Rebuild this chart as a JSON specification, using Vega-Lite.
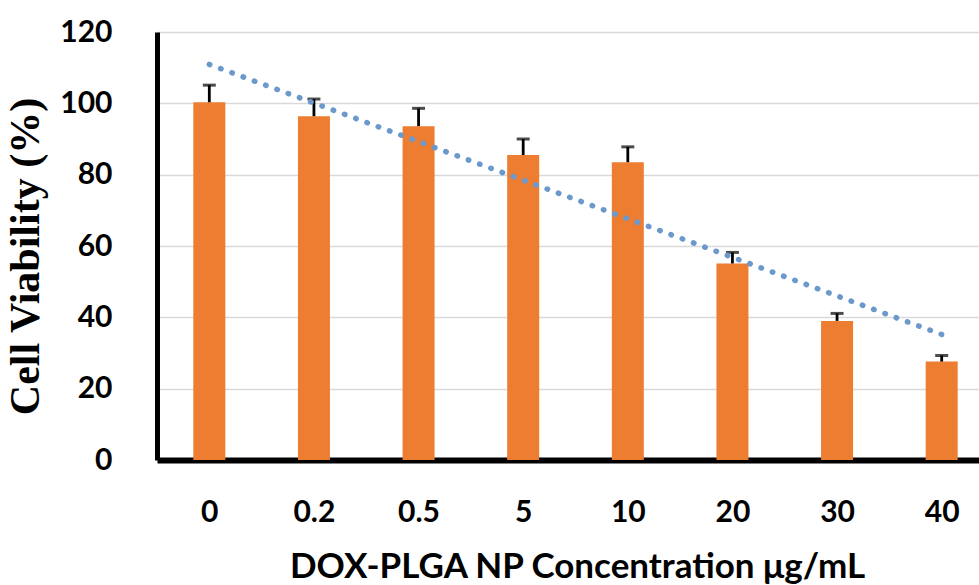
{
  "$schema": "https://vega.github.io/schema/vega-lite/v6.json",
  "autosize": {"type": "none"},
  "width": 822,
  "height": 428,
  "padding": {"left": 157, "top": 32, "right": 0, "bottom": 125},
  "background": "white",
  "config": {"view": {"stroke": null}},
  "datasets": {
    "bars": [
      {"conc": "0", "viability": 100.3, "upper": 105.1},
      {"conc": "0.2", "viability": 96.4, "upper": 101.2},
      {"conc": "0.5", "viability": 93.6, "upper": 98.6},
      {"conc": "5", "viability": 85.5, "upper": 90.0},
      {"conc": "10", "viability": 83.5, "upper": 87.8},
      {"conc": "20", "viability": 55.1, "upper": 58.2},
      {"conc": "30", "viability": 39.0, "upper": 41.1},
      {"conc": "40", "viability": 27.6, "upper": 29.3}
    ],
    "trend": [
      {"conc": "0", "trend": 110.9},
      {"conc": "40", "trend": 35.2}
    ]
  },
  "encoding": {
    "x": {
      "field": "conc",
      "type": "ordinal",
      "sort": ["0", "0.2", "0.5", "5", "10", "20", "30", "40"],
      "scale": {"type": "point", "padding": 0.5, "range": [0, 837]},
      "axis": {
        "title": "DOX-PLGA NP Concentration μg/mL",
        "titleFont": "Lato",
        "titleFontSize": 35,
        "titleFontWeight": "bold",
        "titleColor": "black",
        "titlePadding": 22,
        "titleX": 420,
        "labelFont": "Lato",
        "labelFontSize": 30,
        "labelFontWeight": "bold",
        "labelColor": "black",
        "labelAngle": 0,
        "labelPadding": 37,
        "ticks": false,
        "domainColor": "black",
        "domainWidth": 6,
        "grid": false
      }
    }
  },
  "layer": [
    {
      "data": {"name": "bars"},
      "mark": {"type": "bar", "size": 32, "color": "#ED7D31"},
      "encoding": {
        "y": {
          "field": "viability",
          "type": "quantitative",
          "scale": {"domain": [0, 120]},
          "axis": {
            "title": "Cell Viability (%)",
            "titleFont": "Liberation Serif",
            "titleFontSize": 42,
            "titleFontWeight": "bold",
            "titleColor": "black",
            "titlePadding": 12,
            "titleY": 224,
            "labelFont": "Lato",
            "labelFontSize": 30,
            "labelFontWeight": "bold",
            "labelColor": "black",
            "labelPadding": 45,
            "values": [0, 20, 40, 60, 80, 100, 120],
            "ticks": false,
            "domainColor": "black",
            "domainWidth": 5,
            "grid": true,
            "gridColor": "#D9D9D9",
            "gridWidth": 1.5
          }
        }
      }
    },
    {
      "data": {"name": "bars"},
      "mark": {"type": "rule", "color": "black", "strokeWidth": 2.8},
      "encoding": {
        "y": {"field": "viability", "type": "quantitative"},
        "y2": {"field": "upper"}
      }
    },
    {
      "data": {"name": "bars"},
      "mark": {"type": "tick", "color": "black", "size": 13, "thickness": 3, "orient": "horizontal"},
      "encoding": {
        "y": {"field": "upper", "type": "quantitative"}
      }
    },
    {
      "data": {"name": "trend"},
      "mark": {"type": "line", "color": "#6C99CC", "strokeWidth": 5.5, "strokeCap": "round", "strokeDash": [0.5, 11.5]},
      "encoding": {
        "y": {"field": "trend", "type": "quantitative"}
      }
    }
  ]
}
